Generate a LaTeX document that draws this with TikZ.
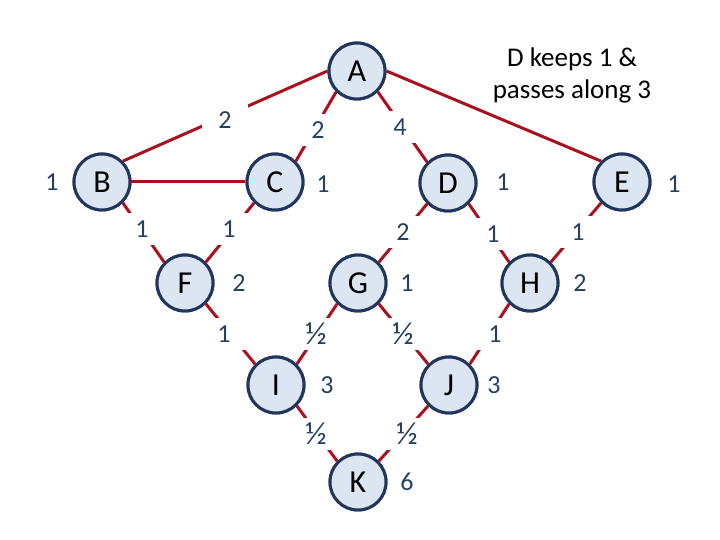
\documentclass[tikz,border=0pt]{standalone}
\usepackage{fontspec}
\setmainfont{Carlito}
\definecolor{edgered}{RGB}{168,18,30}
\definecolor{nodefill}{RGB}{220,230,242}
\definecolor{nodeline}{RGB}{32,54,92}
\definecolor{numblue}{RGB}{38,64,100}
\begin{document}
\begin{tikzpicture}[x=0.5pt,y=-0.5pt,
  vert/.style={circle,draw=nodeline,fill=nodefill,line width=1.5pt,minimum size=28pt,inner sep=0pt,font=\fontsize{16}{19}\selectfont,text=black},
  conn/.style={draw=edgered,line width=1.5pt},
  elab/.style={fill=white,minimum width=22pt,minimum height=16pt,inner sep=0pt,text=numblue,font=\fontsize{13}{15}\selectfont},
  half/.style={elab,font=\fontsize{16}{18}\selectfont},
  vlab/.style={inner sep=0pt,text=numblue,font=\fontsize{13}{15}\selectfont},
  note/.style={align=center,text=black,font=\fontsize{13.5}{16}\selectfont}]
\useasboundingbox (0,0) rectangle (720,540);
% nodes (first pass, to fix connection points)
\path (357,71) node[vert] (A) {A}
      (102,182) node[vert] (B) {B}
      (275,182) node[vert] (C) {C}
      (448,183) node[vert] (D) {D}
      (622,182) node[vert] (E) {E}
      (185,283) node[vert] (F) {F}
      (358,283) node[vert] (G) {G}
      (530,283) node[vert] (H) {H}
      (276,385) node[vert] (I) {I}
      (449,385) node[vert] (J) {J}
      (358,482) node[vert] (K) {K};
% connectors
\draw[conn] (A.west) -- (B.north east);
\draw[conn] (A.south west) -- (C.north east);
\draw[conn] (A.south east) -- (D.north west);
\draw[conn] (A.east) -- (E.north west);
\draw[conn] (B.east) -- (C.west);
\draw[conn] (B.south east) -- (F.north west);
\draw[conn] (C.south west) -- (F.north east);
\draw[conn] (D.south west) -- (G.north east);
\draw[conn] (D.south east) -- (H.north west);
\draw[conn] (E.south west) -- (H.north east);
\draw[conn] (F.south east) -- (I.north west);
\draw[conn] (G.south west) -- (I.north east);
\draw[conn] (G.south east) -- (J.north west);
\draw[conn] (H.south west) -- (J.north east);
\draw[conn] (I.south east) -- (K.north west);
\draw[conn] (J.south west) -- (K.north east);
% edge labels
\node[elab,minimum width=23pt] (lab) at (225,120) {2};
\node[elab] (lac) at (318,130) {2};
\node[elab] (lad) at (400,127) {4};
\node[elab] (lbf) at (142,229) {1};
\node[elab] (lcf) at (229,229) {1};
\node[elab] (ldg) at (403,232) {2};
\node[elab] (ldh) at (493,234) {1};
\node[elab] (leh) at (578,232) {1};
\node[elab] (lfi) at (224,334) {1};
\node[half] (lgi) at (316,334) {½};
\node[half] (lgj) at (403,334) {½};
\node[elab] (lhj) at (495,334) {1};
\node[half] (lik) at (316,434) {½};
\node[half] (ljk) at (407,434) {½};
% nodes on top
\path (357,71) node[vert] {A}
      (102,182) node[vert] {B}
      (275,182) node[vert] {C}
      (448,183) node[vert] {D}
      (622,182) node[vert] {E}
      (185,283) node[vert] {F}
      (358,283) node[vert] {G}
      (530,283) node[vert] {H}
      (276,385) node[vert] {I}
      (449,385) node[vert] {J}
      (358,482) node[vert] {K};
% value labels
\node[vlab] (vb) at (52,182) {1};
\node[vlab] (vc) at (323,184) {1};
\node[vlab] (vd) at (503,182) {1};
\node[vlab] (ve) at (674,184) {1};
\node[vlab] (vf) at (239,283) {2};
\node[vlab] (vg) at (407,283) {1};
\node[vlab] (vh) at (580,283) {2};
\node[vlab] (vi) at (327,385) {3};
\node[vlab] (vj) at (494,385) {3};
\node[vlab] (vk) at (407,482) {6};
% note
\node[note] (nt) at (572,75) {D keeps 1 \&\\passes along 3};
\end{tikzpicture}
\end{document}
